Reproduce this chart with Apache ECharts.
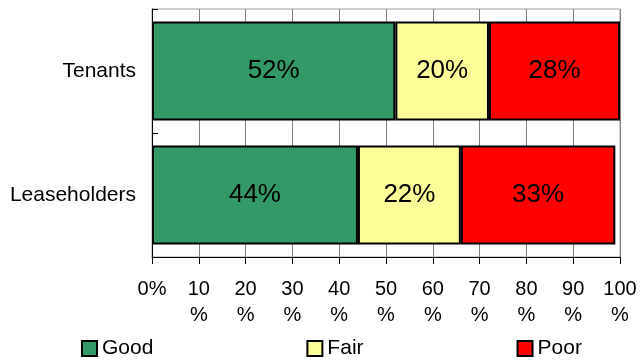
<!DOCTYPE html>
<html>
<head>
<meta charset="utf-8">
<script src="https://cdn.jsdelivr.net/npm/echarts@6/dist/echarts.min.js"></script>
<style>
  html, body { margin: 0; padding: 0; background: #fff; }
  #chart { width: 640px; height: 361px; }
</style>
</head>
<body>
<div id="chart"></div>
<script>
// Survey ratings by resident group (percent of respondents)
const categories = ['Tenants', 'Leaseholders'];
const seriesNames = ['Good', 'Fair', 'Poor'];
const good = [52, 44];
const fair = [20, 22];
const poor = [28, 33];
const tickValues = [0, 10, 20, 30, 40, 50, 60, 70, 80, 90, 100];

const colors = ['#339966', '#FFFF99', '#FF0000'];
const values = [good, fair, poor];
const font = '"Liberation Sans", Arial, sans-serif';

const chart = echarts.init(document.getElementById('chart'), null, { renderer: 'canvas' });

const series = seriesNames.map((name, i) => ({
  name: name,
  type: 'bar',
  stack: 'total',
  barCategoryGap: '20%',
  data: values[i],
  itemStyle: { color: colors[i], borderColor: '#000', borderWidth: 2 },
  label: {
    show: true,
    position: 'inside',
    formatter: '{c}%',
    fontFamily: font,
    fontSize: 26,
    color: '#000'
  },
  emphasis: { disabled: true }
}));

chart.setOption({
  animation: false,
  backgroundColor: '#fff',
  textStyle: { fontFamily: font },
  grid: {
    left: 152, right: 20, top: 9, bottom: 104,
    show: true, borderColor: '#a0a0a0', borderWidth: 1,
    containLabel: false
  },
  legend: {
    data: seriesNames,
    left: 81,
    top: 338,
    padding: 0,
    itemWidth: 15,
    itemHeight: 15,
    itemGap: 153,
    icon: 'rect',
    textStyle: { fontFamily: font, fontSize: 21, color: '#000', lineHeight: 21 }
  },
  xAxis: {
    type: 'value',
    min: tickValues[0],
    max: tickValues[tickValues.length - 1],
    interval: tickValues[1] - tickValues[0],
    axisLine: { show: true, lineStyle: { color: '#000', width: 1 } },
    axisTick: { show: true, length: 7, lineStyle: { color: '#000' } },
    splitLine: { show: true, lineStyle: { color: '#808080', width: 1 } },
    axisLabel: {
      margin: 19,
      fontFamily: font,
      fontSize: 20,
      lineHeight: 26,
      color: '#000',
      verticalAlign: 'top',
      formatter: v => (v === 0 ? v + '%' : v + '\n%')
    }
  },
  yAxis: {
    type: 'category',
    data: categories,
    inverse: true,
    axisLine: { show: true, lineStyle: { color: '#000', width: 1 } },
    axisTick: { show: true, inside: true, length: 6, lineStyle: { color: '#000' } },
    axisLabel: { margin: 16, fontFamily: font, fontSize: 21, color: '#000' },
    splitLine: { show: false }
  },
  series: series
});
</script>
</body>
</html>
